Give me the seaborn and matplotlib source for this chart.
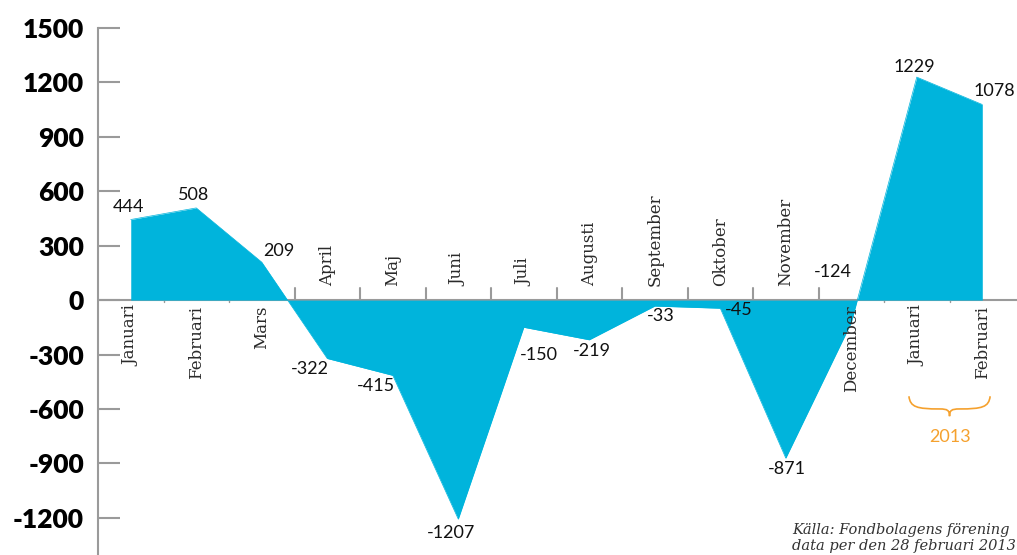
import matplotlib
matplotlib.use("Agg")
import matplotlib.pyplot as plt
import seaborn as sns
import numpy as np
import pandas as pd
from matplotlib.path import Path
from matplotlib.patches import PathPatch

sns.set_theme(style="white")
plt.rcParams['font.family'] = ['Lato', 'DejaVu Sans']

months = ["Januari", "Februari", "Mars", "April", "Maj", "Juni", "Juli",
          "Augusti", "September", "Oktober", "November", "December",
          "Januari", "Februari"]
values = [444, 508, 209, -322, -415, -1207, -150, -219, -33, -45, -871,
          -124, 1229, 1078]
yticks = [-1200, -900, -600, -300, 0, 300, 600, 900, 1200, 1500]
year_label = "2013"
source_lines = ["Källa: Fondbolagens förening", "data per den 28 februari 2013"]

df = pd.DataFrame({"idx": np.arange(len(months)), "month": months, "value": values})

FILL = "#00B4DC"
GRAY = "#9a9a9a"
ORANGE = "#F5A12E"

fig = plt.figure(figsize=(10.17, 5.55), dpi=100)
ax = fig.add_axes([98 / 1017, 0, 1 - 98 / 1017, 1])

sns.lineplot(data=df, x="idx", y="value", ax=ax, color=FILL, linewidth=0.5)
ax.fill_between(df["idx"], 0, df["value"], color=FILL, linewidth=0)

ax.set_xlim(-0.5, 13.53)
ax.set_ylim(-1405, 1654)

# zero line
ax.axhline(0, color=GRAY, linewidth=1.5, zorder=0.5)

# boundary ticks
for i in range(len(months) - 1):
    b = i + 0.5
    if 2 < b < 11.5:
        ax.plot([b, b], [0, 66], color=GRAY, linewidth=1.5, zorder=0.6)
    else:
        ax.plot([b, b], [0, -12], color=GRAY, linewidth=1.0, zorder=0.6)

# spines
for s in ["top", "right", "bottom"]:
    ax.spines[s].set_visible(False)
ax.spines["left"].set_color(GRAY)
ax.spines["left"].set_linewidth(1.5)
ax.spines["left"].set_bounds(-1405, 1500)

ax.set_yticks(yticks)
ax.set_yticklabels([str(t) for t in yticks], fontsize=19, fontweight="heavy",
                   color="#000000")
ax.tick_params(axis="y", direction="in", length=16, width=1.5, color=GRAY,
               pad=10, left=True)
ax.set_xticks([])
ax.set_xlabel("")
ax.set_ylabel("")

# month labels
for i, m in enumerate(months):
    above = 3 <= i <= 10
    if above:
        ax.text(i, 80, m, rotation=90, ha="center", va="bottom", fontsize=12,
                family="DejaVu Serif", color="#2a2a2a")
    else:
        ax.text(i, -30, m, rotation=90, ha="center", va="top", fontsize=12,
                family="DejaVu Serif", color="#2a2a2a")

# value labels (offsets in pixels)
offsets = [(-2, 13), (-3, 13), (17, 11), (-17, -10), (-17, -11), (-7, -14),
           (15, -28), (3, -11), (6, -10), (18, -2), (1, -11), (-18, 51),
           (-2, 10), (12, 14)]
for i, (v, off) in enumerate(zip(values, offsets)):
    ax.annotate(str(v), (i, v), xytext=(off[0] * 0.72, off[1] * 0.72),
                textcoords="offset points", ha="center", va="center",
                fontsize=13, color="#111111")

# 2013 brace
x0, x1 = 11.88, 13.12
xm = (x0 + x1) / 2
ytop, ymid, ytip = -530, -600, -640
verts = [
    (x0, ytop), (x0 + 0.02, ymid + 10), (x0 + 0.12, ymid), (xm - 0.15, ymid),
    (xm - 0.03, ymid), (xm, ymid - 8), (xm, ytip),
    (xm, ymid - 8), (xm + 0.03, ymid), (xm + 0.15, ymid),
    (x1 - 0.12, ymid), (x1 - 0.02, ymid + 10), (x1, ytop),
]
codes = [Path.MOVETO,
         Path.CURVE4, Path.CURVE4, Path.CURVE4,
         Path.CURVE4, Path.CURVE4, Path.CURVE4,
         Path.CURVE4, Path.CURVE4, Path.CURVE4,
         Path.CURVE4, Path.CURVE4, Path.CURVE4]
ax.add_patch(PathPatch(Path(verts, codes), facecolor="none", edgecolor=ORANGE,
                       linewidth=1.2))
ax.text(xm, -752, year_label, ha="center", va="center", fontsize=13,
        color=ORANGE)

# source
fig.text(792 / 1017, 1 - 530 / 555, source_lines[0], ha="left", va="center",
         fontsize=10.5, style="italic", family="DejaVu Serif", color="#333333")
fig.text(792 / 1017, 1 - 546 / 555, source_lines[1], ha="left", va="center",
         fontsize=10.5, style="italic", family="DejaVu Serif", color="#333333")

fig.savefig("out.png", dpi=100)
